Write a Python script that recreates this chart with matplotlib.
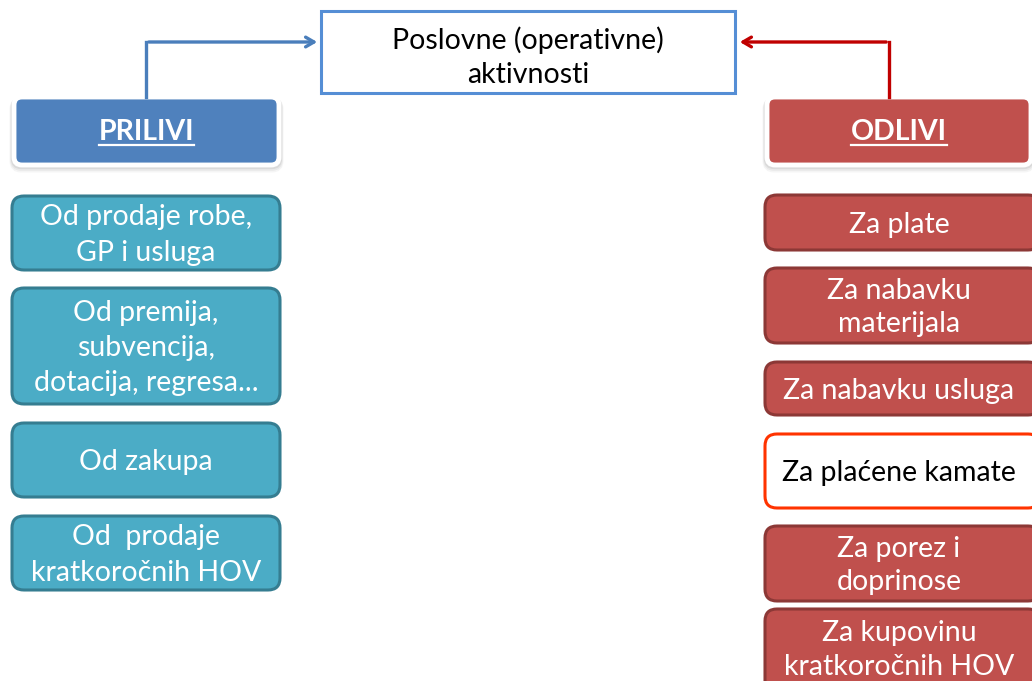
import matplotlib
matplotlib.use("Agg")
import matplotlib.pyplot as plt
from matplotlib.patches import FancyBboxPatch, Rectangle

# ---- content ----
title_text = "Poslovne (operativne)\naktivnosti"
inflow_header = "PRILIVI"
outflow_header = "ODLIVI"
inflow_items = ["Od prodaje robe,\nGP i usluga",
                "Od premija,\nsubvencija,\ndotacija, regresa...",
                "Od zakupa",
                "Od  prodaje\nkratkoročnih HOV"]
outflow_items = ["Za plate",
                 "Za nabavku\nmaterijala",
                 "Za nabavku usluga",
                 "Za plaćene kamate",
                 "Za porez i\ndoprinose",
                 "Za kupovinu\nkratkoročnih HOV"]
outflow_highlight = [False, False, False, True, False, False]

# ---- layout (pixels, y down) ----
W, H = 1032, 681
inflow_y = [(196, 270), (288, 404), (423, 497), (516, 590)]
outflow_y = [(195, 250), (268, 343), (362, 415), (434, 508), (526, 601), (609, 700)]
FONT = ["Lato", "DejaVu Sans"]
FS = 20.5

fig = plt.figure(figsize=(W / 100, H / 100), dpi=100)
ax = fig.add_axes([0, 0, 1, 1])
ax.set_xlim(0, W)
ax.set_ylim(H, 0)
ax.axis("off")


def rbox(x0, y0, x1, y1, fc, ec, lw, r=10, z=2):
    p = FancyBboxPatch((x0, y0), x1 - x0, y1 - y0,
                       boxstyle=f"round,pad=0,rounding_size={r}",
                       fc=fc, ec=ec, lw=lw, zorder=z)
    ax.add_patch(p)
    return p


def label(x, y, s, color="white", ls=1.43, **kw):
    return ax.text(x, y, s, ha="center", va="center", color=color, fontsize=FS,
                   family=FONT, linespacing=ls, zorder=5, **kw)


# top box
ax.add_patch(Rectangle((321, 11), 414, 82, fc="white", ec="#558ED5", lw=2.2, zorder=2))
label(528, 57, title_text, color="black", ls=1.36)

# arrows
ax.annotate("", xy=(320, 42), xytext=(146, 42),
            arrowprops=dict(arrowstyle="->,head_length=0.6,head_width=0.35",
                            color="#4A7EBB", lw=2.4), zorder=3)
ax.plot([146, 146], [97, 42], color="#4A7EBB", lw=2.4, solid_capstyle="projecting", zorder=3)
ax.annotate("", xy=(737, 42), xytext=(889, 42),
            arrowprops=dict(arrowstyle="->,head_length=0.6,head_width=0.35",
                            color="#C00000", lw=2.4), zorder=3)
ax.plot([889, 889], [97, 42], color="#C00000", lw=2.4, solid_capstyle="projecting", zorder=3)

fig.canvas.draw()
renderer = fig.canvas.get_renderer()

# header boxes with shadow and white rim
for (x0, x1, fc, txt) in [(14, 279, "#4F81BD", inflow_header), (767, 1031, "#C0504D", outflow_header)]:
    for k, a in [(4, 0.08), (3, 0.10), (2, 0.14)]:
        rbox(x0 - 1, 97 + k, x1 + 1, 165 + k, fc="none", ec="#808080", lw=k + 1, r=8, z=1).set_alpha(a)
    rbox(x0, 97, x1, 165, fc=fc, ec="white", lw=3.5, r=8, z=2)
    cx = (x0 + x1) / 2
    t = label(cx, 132, txt, fontweight="bold")
    bb = t.get_window_extent(renderer)
    tw = bb.width
    ax.plot([cx - tw / 2, cx + tw / 2], [145, 145], color="white", lw=1.6, zorder=5)

# inflow boxes
for (y0, y1), s in zip(inflow_y, inflow_items):
    rbox(12, y0, 280, y1, fc="#4BACC6", ec="#357D91", lw=2.2, r=12)
    label(146, (y0 + y1) / 2 + 2, s)

# outflow boxes
for (y0, y1), s, hl in zip(outflow_y, outflow_items, outflow_highlight):
    if hl:
        rbox(765, y0, 1040, y1, fc="white", ec="#FF3300", lw=2.2, r=12)
        label(899, (y0 + y1) / 2 + 2, s, color="black")
    else:
        rbox(765, y0, 1040, y1, fc="#C0504D", ec="#8C3836", lw=2.2, r=12)
        cy = (y0 + y1) / 2 if y1 <= H else 648
        label(899, cy + 2, s, ls=1.36)

fig.savefig("out.png", dpi=100)
